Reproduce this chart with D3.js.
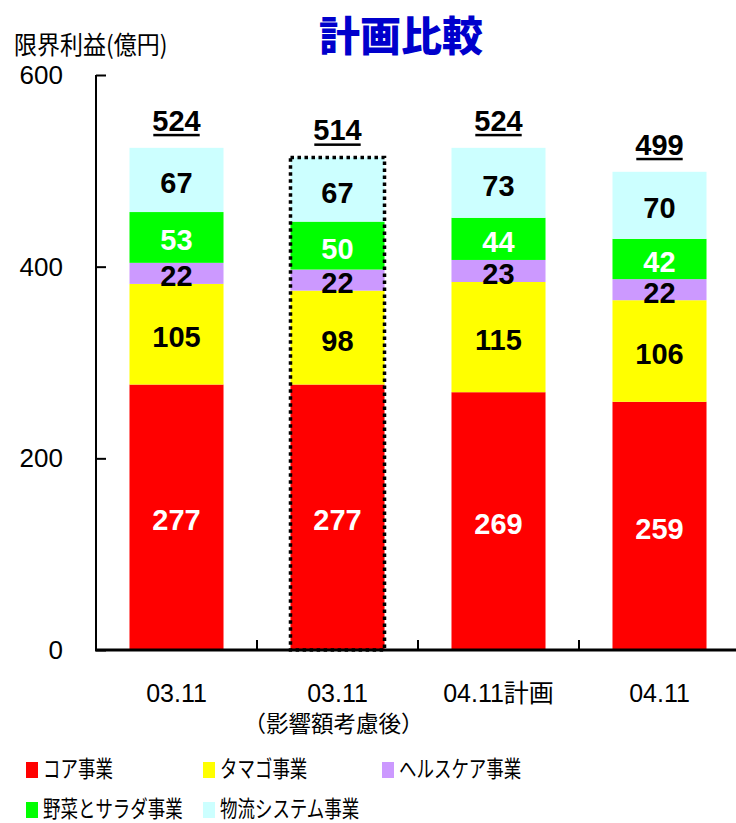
<!DOCTYPE html>
<html>
<head>
<meta charset="utf-8">
<script src="https://cdn.jsdelivr.net/npm/d3@7"></script>
<style>
  html, body { margin: 0; padding: 0; background: #fff; }
  svg { display: block; }
</style>
</head>
<body>
<svg id="chart" width="736" height="823"></svg>
<script>
// 限界利益 (億円) by business segment
const categories = ["03.11", "03.11", "04.11計画", "04.11"];
const subLabels = ["", "（影響額考慮後）", "", ""];
const seriesNames = ["コア事業", "タマゴ事業", "ヘルスケア事業", "野菜とサラダ事業", "物流システム事業"];
const coreValues = [277, 277, 269, 259];
const eggValues = [105, 98, 115, 106];
const healthValues = [22, 22, 23, 22];
const saladValues = [53, 50, 44, 42];
const logisticsValues = [67, 67, 73, 70];
const totals = [524, 514, 524, 499];
const yTicks = [0, 200, 400, 600];
const colors = ["#FF0000", "#FFFF00", "#CC99FF", "#00FF00", "#CCFFFF"];
const labelColors = ["#FFFFFF", "#000000", "#000000", "#FFFFFF", "#000000"];
const highlighted = 1; // 影響額考慮後 column drawn with a dotted outline

const series = [coreValues, eggValues, healthValues, saladValues, logisticsValues];

const svg = d3.select("#chart");
const plotLeft = 96, plotRight = 740, plotTop = 75, plotBottom = 650;

const x = d3.scaleBand()
  .domain(d3.range(categories.length))
  .range([plotLeft, plotRight])
  .paddingInner(0.416)
  .paddingOuter(0.208);
const step = x.step();

const y = d3.scaleLinear().domain([0, 600]).range([plotBottom, plotTop]);

// stacked layout
const rows = categories.map((c, i) => {
  const r = { i };
  seriesNames.forEach((s, k) => r[s] = series[k][i]);
  return r;
});
const stacked = d3.stack().keys(seriesNames)(rows);

const numFont = "'Liberation Sans', Arial, sans-serif";
const jpFont = "'Noto Sans CJK JP', sans-serif";

// title
svg.append("text")
  .attr("x", 401).attr("y", 51)
  .attr("text-anchor", "middle")
  .attr("font-family", jpFont)
  .attr("font-weight", 900)
  .attr("font-size", 41)
  .attr("fill", "#0000CC")
  .text("計画比較");

// y axis title
svg.append("text")
  .attr("transform", "translate(14,54) scale(0.92,1)")
  .attr("font-family", jpFont)
  .attr("font-size", 25)
  .attr("fill", "#000")
  .text("限界利益(億円)");

// bars
const layers = svg.append("g").selectAll("g")
  .data(stacked)
  .join("g")
  .attr("fill", (d, k) => colors[k]);

layers.selectAll("rect")
  .data(d => d)
  .join("rect")
  .attr("x", d => x(d.data.i))
  .attr("width", x.bandwidth())
  .attr("y", d => y(d[1]))
  .attr("height", d => y(d[0]) - y(d[1]));

// segment value labels
stacked.forEach((layer, k) => {
  svg.append("g").selectAll("text")
    .data(layer)
    .join("text")
    .attr("x", d => x(d.data.i) + x.bandwidth() / 2)
    .attr("y", d => (y(d[0]) + y(d[1])) / 2 + 13)
    .attr("text-anchor", "middle")
    .attr("font-family", numFont)
    .attr("font-weight", "bold")
    .attr("font-size", 29)
    .attr("fill", labelColors[k])
    .text(d => d[1] - d[0]);
});

// dotted outline on the highlighted column
svg.append("rect")
  .attr("x", x(highlighted))
  .attr("width", x.bandwidth())
  .attr("y", y(totals[highlighted]))
  .attr("height", y(0) - y(totals[highlighted]))
  .attr("fill", "none")
  .attr("stroke", "#000")
  .attr("stroke-width", 3.5)
  .attr("stroke-dasharray", "3.5,3.5");

// totals, underlined
const totalG = svg.append("g").selectAll("g")
  .data(totals)
  .join("g");
totalG.append("text")
  .attr("x", (d, i) => x(i) + x.bandwidth() / 2)
  .attr("y", d => y(d) - 17)
  .attr("text-anchor", "middle")
  .attr("font-family", numFont)
  .attr("font-weight", "bold")
  .attr("font-size", 29)
  .attr("fill", "#000")
  .text(d => d)
  .each(function (d, i) {
    const bb = this.getBBox();
    svg.append("rect")
      .attr("x", bb.x + 1)
      .attr("width", bb.width - 2)
      .attr("y", y(d) - 14)
      .attr("height", 2.5)
      .attr("fill", "#000");
  });

// y axis
const yAxis = svg.append("g")
  .attr("transform", `translate(${plotLeft},0)`)
  .call(d3.axisRight(y).tickValues(yTicks).tickSize(10).tickFormat(""));
yAxis.select(".domain").attr("d", `M0,${plotTop}V${plotBottom}`).attr("stroke-width", 2);
yAxis.selectAll(".tick line").attr("stroke-width", 2);

svg.append("g").selectAll("text")
  .data(yTicks)
  .join("text")
  .attr("x", 63)
  .attr("y", d => y(d) + 9)
  .attr("text-anchor", "end")
  .attr("font-family", numFont)
  .attr("font-size", 26)
  .attr("fill", "#000")
  .text(d => d);

// x axis: baseline and ticks between categories
const xAxis = svg.append("g")
  .attr("transform", `translate(0,${plotBottom})`)
  .call(d3.axisTop(x).tickSize(0).tickFormat(""));
xAxis.select(".domain").attr("d", `M${plotLeft - 1},0H${plotRight}`).attr("stroke-width", 3);
xAxis.selectAll(".tick").remove();
svg.append("g").selectAll("line")
  .data(d3.range(1, categories.length))
  .join("line")
  .attr("x1", i => plotLeft + i * step)
  .attr("x2", i => plotLeft + i * step)
  .attr("y1", plotBottom)
  .attr("y2", plotBottom - 10)
  .attr("stroke", "#000")
  .attr("stroke-width", 2);

// category labels
svg.append("g").selectAll("text")
  .data(categories)
  .join("text")
  .attr("x", (d, i) => x(i) + x.bandwidth() / 2)
  .attr("y", 702)
  .attr("text-anchor", "middle")
  .attr("font-family", `'Liberation Sans', Arial, ${jpFont}`)
  .attr("font-size", 25)
  .attr("fill", "#000")
  .text(d => d);
svg.append("g").selectAll("text")
  .data(subLabels)
  .join("text")
  .attr("x", (d, i) => x(i) + x.bandwidth() / 2 - 4)
  .attr("y", 732)
  .attr("text-anchor", "middle")
  .attr("font-family", jpFont)
  .attr("font-size", 22.5)
  .attr("fill", "#000")
  .text(d => d);

// legend
const legendPos = [[26, 777], [203, 777], [382, 777], [26, 817], [203, 817]];
const legend = svg.append("g").selectAll("g")
  .data(seriesNames)
  .join("g")
  .attr("transform", (d, k) => `translate(${legendPos[k][0]},${legendPos[k][1]})`);
legend.append("rect")
  .attr("x", 0).attr("y", -15)
  .attr("width", 12).attr("height", 16)
  .attr("fill", (d, k) => colors[k]);
legend.append("text")
  .attr("transform", "translate(17,0) scale(0.76,1)")
  .attr("font-family", jpFont)
  .attr("font-size", 23)
  .attr("fill", "#000")
  .text(d => d);
</script>
</body>
</html>
